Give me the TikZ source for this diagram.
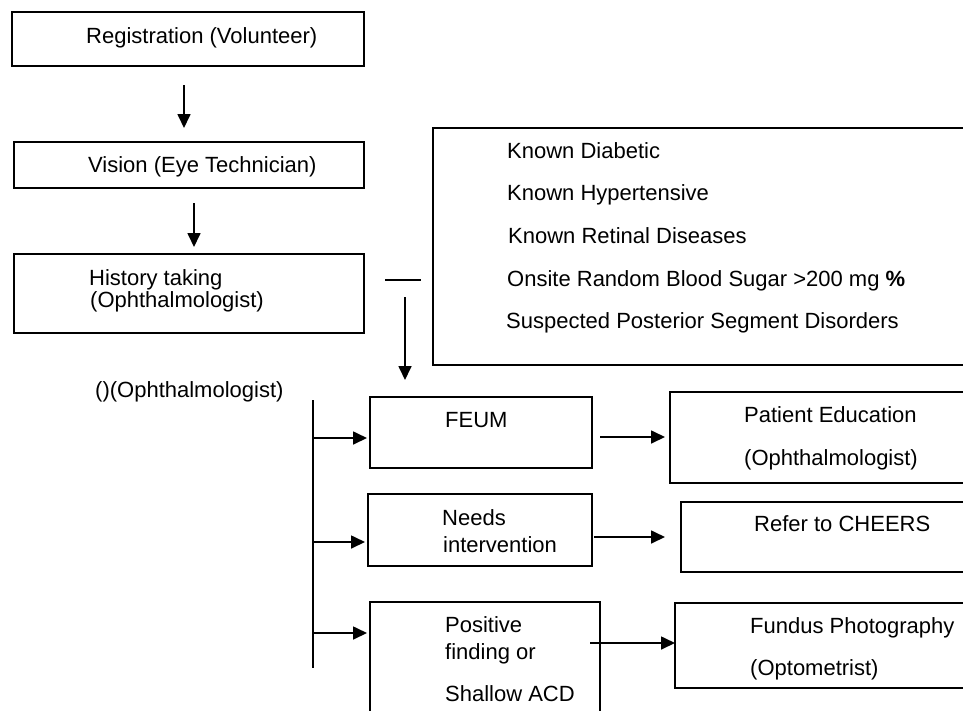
\documentclass[tikz,border=0pt]{standalone}
\usepackage{fontspec}
\setmainfont{Liberation Sans}
\usetikzlibrary{arrows.meta,calc}
\newcommand\dfont{\fontsize{22}{26}\selectfont}
\tikzset{
  box/.style={draw, line width=1.6pt, inner sep=0pt, outer sep=0pt, anchor=north west},
  lbl/.style={anchor=base west, inner sep=0pt, font=\dfont},
  arr/.style={line width=1.7pt, -{Triangle[length=14pt,width=13pt]}},
  ln/.style={line width=1.7pt}
}
\begin{document}
\begin{tikzpicture}[x=1pt,y=-1pt]
\useasboundingbox (0,0) rectangle (963,710);
\clip (0,0) rectangle (963,710);
\fill[white] (0,0) rectangle (963,710);
% boxes
\node[box, minimum width=352pt, minimum height=54pt] (reg) at (12,12) {};
\node[box, minimum width=350pt, minimum height=46pt] (vis) at (14,142) {};
\node[box, minimum width=350pt, minimum height=79pt] (hist) at (14,254) {};
\node[box, minimum width=542pt, minimum height=237pt] (crit) at (433,128) {};
\node[box, minimum width=222pt, minimum height=71pt] (feum) at (370,397) {};
\node[box, minimum width=305pt, minimum height=91pt] (pe) at (670,392) {};
\node[box, minimum width=224pt, minimum height=72pt] (needs) at (368,494) {};
\node[box, minimum width=294pt, minimum height=70pt] (cheers) at (681,502) {};
\node[box, minimum width=230pt, minimum height=118pt] (pos) at (370,602) {};
\node[box, minimum width=300pt, minimum height=85pt] (fundus) at (675,603) {};
% texts
\node[lbl] (treg) at (86,43.5) {Registration (Volunteer)};
\node[lbl] (tvis) at (88,172) {Vision (Eye Technician)};
\node[lbl] (thist1) at (89,285) {History taking};
\node[lbl] (thist2) at (90,307) {(Ophthalmologist)};
\node[lbl] (tc1) at (507,158) {Known Diabetic};
\node[lbl] (tc2) at (507,200.5) {Known Hypertensive};
\node[lbl] (tc3) at (508,243) {Known Retinal Diseases};
\node[lbl] (tc4) at (507,286) {Onsite Random Blood Sugar >200 mg \textbf{\%}};
\node[lbl] (tc5) at (506,328) {Suspected Posterior Segment Disorders};
\node[lbl] (toph) at (95,397) {()(Ophthalmologist)};
\node[lbl] (tfeum) at (445,427) {FEUM};
\node[lbl] (tpe1) at (744,422) {Patient Education};
\node[lbl] (tpe2) at (744,465) {(Ophthalmologist)};
\node[lbl] (tn1) at (442,525) {Needs};
\node[lbl] (tn2) at (443,552) {intervention};
\node[lbl] (tch) at (754,531) {Refer to CHEERS};
\node[lbl] (tp1) at (445,632) {Positive};
\node[lbl] (tp2) at (445,659) {finding or};
\node[lbl] (tp3) at (445,701) {Shallow ACD};
\node[lbl] (tf1) at (750,633) {Fundus Photography};
\node[lbl] (tf2) at (750,675) {(Optometrist)};
% connectors
\draw[arr] ($(reg.south west)+(172,19)$) -- ($(vis.north west)+(170,-14)$);
\draw[arr] ($(vis.south west)+(180,15)$) -- ($(hist.north west)+(180,-7)$);
\draw[ln] ($(crit.north west)+(-48,152)$) -- ($(crit.north west)+(-12,152)$);
\draw[arr] ($(crit.north west)+(-28,169)$) -- ($(feum.north west)+(35,-17)$);
\coordinate (bt) at (313,400);
\coordinate (bb) at (313,668);
\draw[ln] (bt) -- (bb);
\coordinate (f1) at ($(feum.south west)+(-3,-30)$);
\coordinate (n1) at ($(needs.south west)+(-3,-24)$);
\coordinate (p1) at ($(pos.north west)+(-3,31)$);
\draw[arr] (bt |- f1) -- (f1);
\draw[arr] (bt |- n1) -- (n1);
\draw[arr] (bt |- p1) -- (p1);
\draw[arr] ($(feum.south east)+(8,-31)$) -- ($(pe.north west)+(-5,45)$);
\draw[arr] ($(needs.north east)+(2,43)$) -- ($(cheers.north west)+(-16,35)$);
\draw[arr] ($(pos.north east)+(-10,41)$) -- ($(fundus.north west)+(0,40)$);
\end{tikzpicture}
\end{document}
